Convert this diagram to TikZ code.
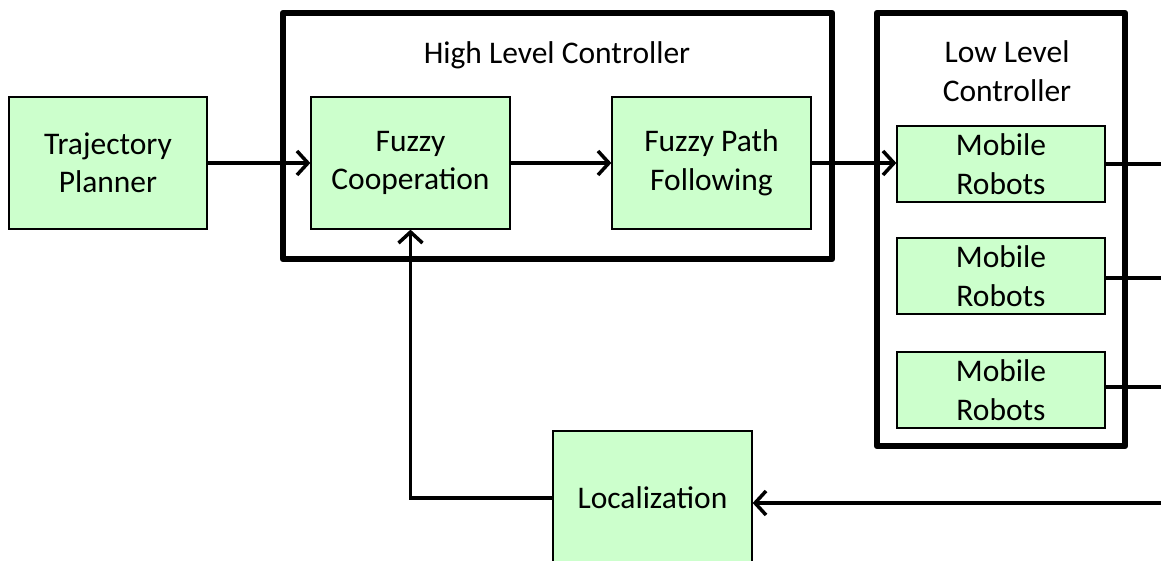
\documentclass[tikz,border=0pt]{standalone}
\usepackage{fontspec}
\setmainfont{Carlito}
\usetikzlibrary{arrows.meta}
\definecolor{blockgreen}{HTML}{CCFFCC}
\tikzset{
  block/.style={draw=black, line width=1.3bp, fill=blockgreen, align=center,
    inner sep=0pt, font=\fontsize{31.5bp}{38.5bp}\selectfont},
  group/.style={draw=black, line width=6.5bp, line join=round},
  grouplabel/.style={align=center, font=\fontsize{31.5bp}{38.5bp}\selectfont},
  flow/.style={line width=3.5bp, -{Straight Barb[length=11bp,width=24bp]}},
  wire/.style={line width=3.5bp}
}
\begin{document}
\begin{tikzpicture}[x=1bp,y=-1bp]
  \useasboundingbox (0,0) rectangle (1161,561);

  % controller groups
  \draw[group] (283,13) rectangle (832,259);
  \node[grouplabel] (hlc) at (557,55) {High Level Controller};
  \draw[group] (877,13) rectangle (1125,446);
  \node[grouplabel] (llc) at (1007,71) {Low Level\\Controller};

  % blocks
  \node[block, minimum width=198bp, minimum height=132bp] (tp) at (108,163) {Trajectory\\Planner};
  \node[block, minimum width=199bp, minimum height=132bp] (fc) at (410.5,163) {Fuzzy\\Cooperation};
  \node[block, minimum width=199bp, minimum height=132bp] (fp) at (711.5,163) {Fuzzy Path\\Following};
  \node[block, minimum width=208bp, minimum height=76bp] (mr1) at (1001,164) {Mobile\\Robots};
  \node[block, minimum width=208bp, minimum height=76bp] (mr2) at (1001,276) {Mobile\\Robots};
  \node[block, minimum width=208bp, minimum height=76bp] (mr3) at (1001,390) {Mobile\\Robots};
  \node[block, minimum width=199bp, minimum height=134bp] (loc) at (652.5,498) {Localization};

  % free ends at the right border
  \coordinate (o1) at (1170,164);
  \coordinate (o2) at (1170,278);
  \coordinate (o3) at (1170,387);
  \coordinate (in) at (1170,503);

  % connectors
  \draw[flow] (tp.east) -- (fc.west);
  \draw[flow] (fc.east) -- (fp.west);
  \draw[flow] (fp.east) -- (fp.east -| mr1.west);
  \draw[wire] (mr1.east) -- (o1);
  \draw[wire] (mr2.east |- o2) -- (o2);
  \draw[wire] (mr3.east |- o3) -- (o3);
  \draw[flow] (in) -- (in -| loc.east);
  \draw[flow] (loc.west) -| (fc.south);
\end{tikzpicture}
\end{document}
